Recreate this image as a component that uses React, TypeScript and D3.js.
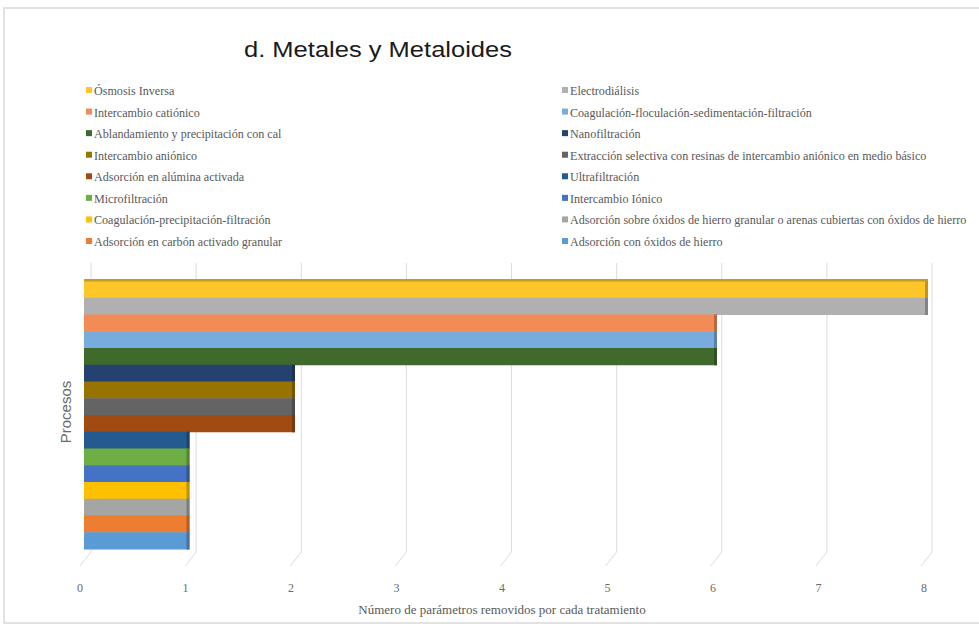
import React from "react";
import * as d3 from "d3";

const seriesNames = [
  "Ósmosis Inversa",
  "Electrodiálisis",
  "Intercambio catiónico",
  "Coagulación-floculación-sedimentación-filtración",
  "Ablandamiento y precipitación con cal",
  "Nanofiltración",
  "Intercambio aniónico",
  "Extracción selectiva con resinas de intercambio aniónico en medio básico",
  "Adsorción en alúmina activada",
  "Ultrafiltración",
  "Microfiltración",
  "Intercambio Iónico",
  "Coagulación-precipitación-filtración",
  "Adsorción sobre óxidos de hierro granular o arenas cubiertas con óxidos de hierro",
  "Adsorción en carbón activado granular",
  "Adsorción con óxidos de hierro",
];
const seriesValues = [8, 8, 6, 6, 6, 2, 2, 2, 2, 1, 1, 1, 1, 1, 1, 1];
const seriesColors = [
  "#FFC629", "#B0B0B0", "#F28B55", "#78ACDD", "#3F6A2B", "#25416F",
  "#977400", "#646464", "#A14A12", "#235A8F", "#6EAE45", "#4472C4",
  "#FFC000", "#A5A5A5", "#ED7D31", "#5B9BD5",
];
const xTicks = [0, 1, 2, 3, 4, 5, 6, 7, 8];
const chartTitle = "d. Metales y Metaloides";
const xTitle = "Número de parámetros removidos por cada tratamiento";
const yTitle = "Procesos";

export default function App() {
  const W = 979, H = 628;
  const x = d3.scaleLinear().domain([0, 8]).range([84, 928]);
  const xBack = d3.scaleLinear().domain([0, 8]).range([91, 932]);
  const y = d3.scaleBand().domain(seriesNames).range([281, 549]).padding(0);
  const bh = y.bandwidth();
  const serif = "'Liberation Serif', 'DejaVu Serif', serif";
  const half = Math.ceil(seriesNames.length / 2);
  const legendRow = d3.scaleLinear().domain([0, half - 1]).range([95, 246]);

  return (
    <svg width={W} height={H} style={{ position: "absolute", left: 0, top: 0, background: "#fff" }}>
      <rect x={4} y={8} width={W + 4} height={615} fill="#fff" stroke="#d9d9d9" strokeWidth={1.5} />
      <text x={244} y={57} fontFamily="Arial, 'Liberation Sans', sans-serif" fontSize={22.5}
        textLength={268} lengthAdjust="spacingAndGlyphs" fill="#1a1a1a">
        {chartTitle}
      </text>

      {/* legend */}
      {seriesNames.map((name, i) => {
        const col = i % 2;
        const row = Math.floor(i / 2);
        const lx = col === 0 ? 86 : 562;
        const ly = legendRow(row);
        return (
          <g key={name}>
            <rect x={lx} y={ly - 8} width={6} height={6} fill={seriesColors[i]} />
            <text x={lx + 8} y={ly} fontFamily={serif} fontSize={12.1} fill="#595959">
              {name}
            </text>
          </g>
        );
      })}

      {/* gridlines (back wall + floor) */}
      {xTicks.map((t) => (
        <g key={t}>
          <line x1={xBack(t)} x2={xBack(t)} y1={263} y2={552} stroke="#dcdcdc" strokeWidth={1} />
          <line x1={xBack(t)} x2={xBack(t) - 11} y1={552} y2={566} stroke="#dcdcdc" strokeWidth={1} />
        </g>
      ))}

      {/* bars */}
      {seriesNames.map((name, i) => {
        const v = seriesValues[i];
        const y0 = y(name) as number;
        const c = d3.color(seriesColors[i])!;
        return (
          <g key={name}>
            <rect x={x(0)} y={y0} width={x(v) - x(0)} height={bh + 0.5} fill={seriesColors[i]} />
            <rect x={x(v) - 3} y={y0} width={3} height={bh + 0.5} fill={c.darker(0.8).toString()} />
          </g>
        );
      })}
      <rect x={x(0)} y={(y(seriesNames[0]) as number) - 2} width={x(seriesValues[0]) - x(0)} height={2.5}
        fill={d3.color(seriesColors[0])!.darker(0.7).toString()} />

      {/* tick labels */}
      {xTicks.map((t) => (
        <text key={t} x={x(t) - 4} y={592} textAnchor="middle" fontFamily={serif} fontSize={12} fill="#6b6b6b">
          {t}
        </text>
      ))}

      <text x={502} y={614} textAnchor="middle" fontFamily={serif} fontSize={13} fill="#595959">
        {xTitle}
      </text>
      <text transform="translate(71,412) rotate(-90)" textAnchor="middle"
        fontFamily="'Liberation Sans', Arial, sans-serif" fontSize={15} fill="#6b6b6b">
        {yTitle}
      </text>
    </svg>
  );
}
